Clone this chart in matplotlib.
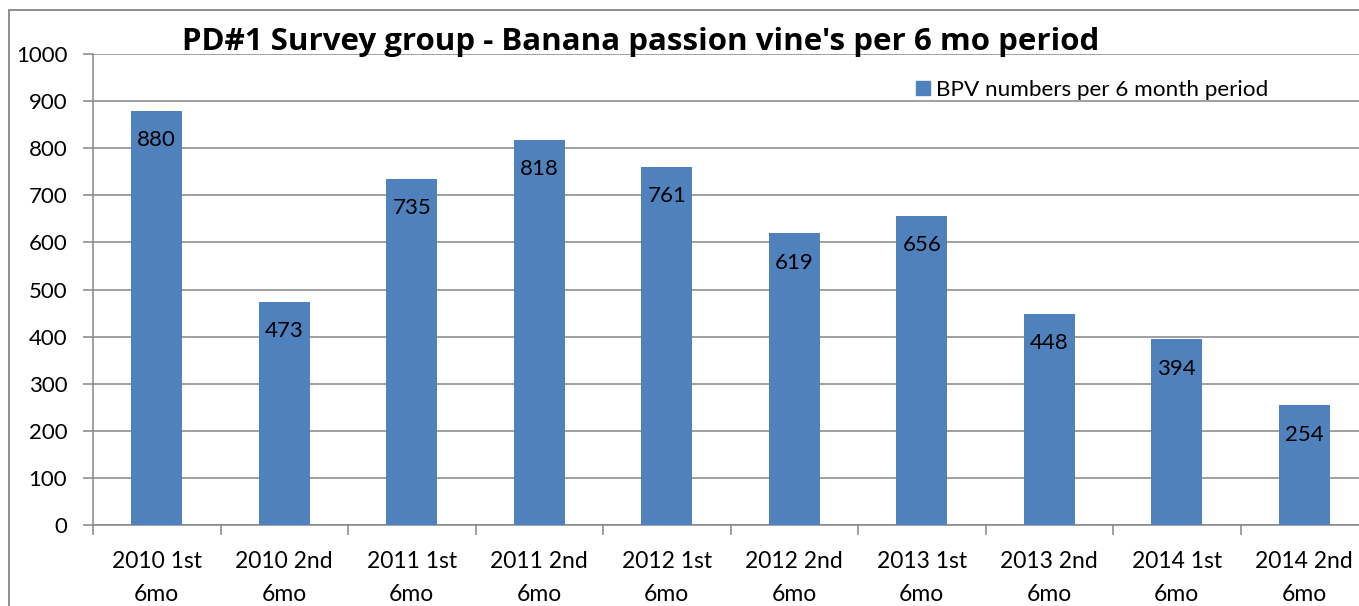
import matplotlib
matplotlib.use("Agg")
import matplotlib.pyplot as plt
from matplotlib.patches import Rectangle
import numpy as np

categories = ["2010 1st\n6mo", "2010 2nd\n6mo", "2011 1st\n6mo", "2011 2nd\n6mo",
              "2012 1st\n6mo", "2012 2nd\n6mo", "2013 1st\n6mo", "2013 2nd\n6mo",
              "2014 1st\n6mo", "2014 2nd\n6mo"]
values = [880, 473, 735, 818, 761, 619, 656, 448, 394, 254]
yticks = [0, 100, 200, 300, 400, 500, 600, 700, 800, 900, 1000]
series_name = "BPV numbers per 6 month period"
title = "PD#1 Survey group - Banana passion vine's per 6 mo period"

plt.rcParams['font.family'] = ['Lato', 'DejaVu Sans']
W, H = 1359, 606
fig = plt.figure(figsize=(W / 100, H / 100), dpi=100)
fig.patch.set_facecolor('white')
gray = '#868686'
bar_color = '#4F81BD'

ax = fig.add_axes([93 / W, (H - 525) / H, 1275 / W, 471 / H])
x = np.arange(len(values))
bars = ax.bar(x, values, width=0.40, color=bar_color, zorder=3)
ax.set_xlim(-0.5, len(values) - 0.5)
ax.set_ylim(0, 1000)
ax.set_yticks(yticks)
ax.set_yticklabels([str(v) for v in yticks], fontsize=16)
ax.set_xticks(x)
ax.set_xticklabels(categories, fontsize=16.5, linespacing=1.7)
ax.set_xticks(np.arange(len(values) + 1) - 0.5, minor=True)
ax.tick_params(axis='x', which='major', length=0, pad=19)
ax.tick_params(axis='x', which='minor', length=7, width=1.1, color=gray, direction='out')
ax.tick_params(axis='y', length=7, width=1.1, color=gray, pad=11.5)
ax.yaxis.grid(True, color=gray, linewidth=1.1, zorder=0)
for s in ['top', 'right']:
    ax.spines[s].set_visible(False)
for s in ['left', 'bottom']:
    ax.spines[s].set_color(gray)
    ax.spines[s].set_linewidth(1.1)
ax.spines['left'].set_zorder(4)

for b, v in zip(bars, values):
    ax.annotate(str(v), (b.get_x() + b.get_width() / 2, v), xytext=(0, -21),
                textcoords='offset points', ha='center', va='center', fontsize=16,
                color='black', zorder=5)

fig.text(641 / W, 1 - 50 / H, title, ha='center', va='baseline', fontsize=22.5,
         fontweight='bold', family=['Open Sans', 'DejaVu Sans'])

handle = Rectangle((0, 0), 1, 1, color=bar_color)
fig.legend([handle], [series_name], loc='center left',
           bbox_to_anchor=(916 / W, 1 - 90 / H), frameon=False, fontsize=16.2,
           handlelength=0.6, handleheight=0.6, handletextpad=0.3,
           borderpad=0, borderaxespad=0)

fig.patches.append(Rectangle((9 / W, -0.05), 1.1, 1.05 - 10 / H, transform=fig.transFigure,
                             fill=False, edgecolor=gray, linewidth=1.3))

fig.savefig('out.png', dpi=100, facecolor='white')
